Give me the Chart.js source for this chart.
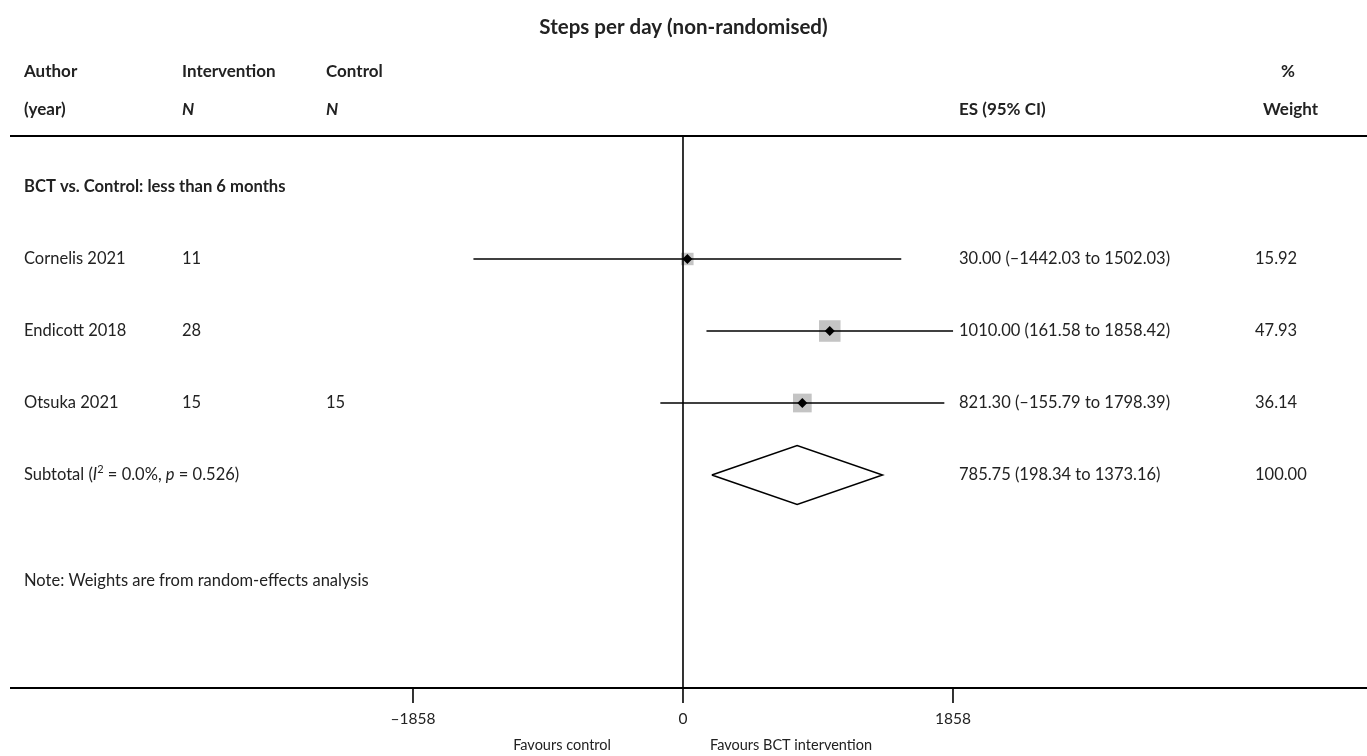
<!DOCTYPE html>
<html>
<head>
<meta charset="utf-8">
<script src="https://cdn.jsdelivr.net/npm/chart.js@4/dist/chart.umd.min.js"></script>
<style>
  html,body{margin:0;padding:0;background:#fff;}
  #wrap{width:1367px;height:756px;position:relative;}
</style>
</head>
<body>
<div id="wrap"><canvas id="c" width="1367" height="756"></canvas></div>
<script>
// ---- data ----
const studies = ['Cornelis 2021', 'Endicott 2018', 'Otsuka 2021'];
const interventionN = ['11', '28', '15'];
const controlN = ['', '', '15'];
const es = [30.00, 1010.00, 821.30];
const ciLow = [-1442.03, 161.58, -155.79];
const ciHigh = [1502.03, 1858.42, 1798.39];
const weights = [15.92, 47.93, 36.14];
const subtotalEs = [785.75];
const subtotalLow = [198.34];
const subtotalHigh = [1373.16];
const subtotalWeight = [100.00];
const xTicks = [-1858, 0, 1858];
const xTickLabels = ['–1858', '0', '1858'];

// row index of each line in the table
const studyRows = [1, 2, 3];
const subtotalRow = 4;

const FONT = 'Lato, "Open Sans", sans-serif';
const TXT = '#222';
const fmt = v => (v < 0 ? '–' : '') + Math.abs(v).toFixed(2);

const datasets = [];
// point estimate markers (small black diamonds) – on top
datasets.push({
  type: 'scatter', order: 0,
  data: es.map((v, i) => ({x: v, y: studyRows[i]})),
  pointStyle: 'rectRot', pointRadius: 5, backgroundColor: '#000', borderColor: '#000', borderWidth: 0
});
// CI lines
studies.forEach((s, i) => {
  datasets.push({
    type: 'line', order: 1,
    data: [{x: ciLow[i], y: studyRows[i]}, {x: ciHigh[i], y: studyRows[i]}],
    borderColor: '#000', borderWidth: 1.6, pointRadius: 0, fill: false
  });
});
// weight squares
datasets.push({
  type: 'scatter', order: 2,
  data: es.map((v, i) => ({x: v, y: studyRows[i]})),
  pointStyle: 'rect', pointRadius: weights.map(w => 2.2 * Math.sqrt(w)),
  backgroundColor: '#c4c4c4', borderWidth: 0
});
// subtotal diamond
datasets.push({
  type: 'line', order: 1,
  data: [
    {x: subtotalLow[0], y: subtotalRow},
    {x: subtotalEs[0], y: subtotalRow - 0.41},
    {x: subtotalHigh[0], y: subtotalRow},
    {x: subtotalEs[0], y: subtotalRow + 0.41},
    {x: subtotalLow[0], y: subtotalRow}
  ],
  borderColor: '#000', borderWidth: 1.5, pointRadius: 0, fill: false, tension: 0
});

const tablePlugin = {
  id: 'table',
  afterDatasetsDraw(chart) {
    const ctx = chart.ctx;
    const xs = chart.scales.x, ys = chart.scales.y;
    const X = v => xs.getPixelForValue(v);
    const Y = r => ys.getPixelForValue(r);
    const W = chart.width;
    const headerLineRow = -0.71, axisRow = 6.958;

    ctx.save();
    // vertical null line
    ctx.strokeStyle = '#000'; ctx.lineWidth = 1.6;
    ctx.beginPath(); ctx.moveTo(X(0), Y(headerLineRow)); ctx.lineTo(X(0), Y(axisRow)); ctx.stroke();
    // header line
    ctx.lineWidth = 2;
    ctx.beginPath(); ctx.moveTo(10, Y(headerLineRow)); ctx.lineTo(W, Y(headerLineRow)); ctx.stroke();
    // axis line
    ctx.beginPath(); ctx.moveTo(10, Y(axisRow)); ctx.lineTo(W, Y(axisRow)); ctx.stroke();
    // ticks
    ctx.lineWidth = 1.6;
    xTicks.forEach(t => {
      ctx.beginPath(); ctx.moveTo(X(t), Y(axisRow)); ctx.lineTo(X(t), Y(axisRow) + 15); ctx.stroke();
    });
    ctx.fillStyle = TXT; ctx.textBaseline = 'middle';
    ctx.font = '15.5px ' + FONT; ctx.textAlign = 'center';
    xTicks.forEach((t, i) => ctx.fillText(xTickLabels[i], X(t), Y(axisRow) + 31));
    ctx.font = '14.5px ' + FONT;
    ctx.textAlign = 'right';
    ctx.fillText('Favours control', X(0) - 72, Y(axisRow) + 57);
    ctx.textAlign = 'left';
    ctx.fillText('Favours BCT intervention', X(0) + 27, Y(axisRow) + 57);

    // title
    ctx.font = 'bold 20.5px ' + FONT; ctx.textAlign = 'center';
    ctx.fillText('Steps per day (non-randomised)', W / 2, Y(-2.22));

    // column headers
    const colAuthor = 24, colInt = 182, colCtl = 326, colES = 959, colW = 1255;
    ctx.textAlign = 'left';
    ctx.font = 'bold 17px ' + FONT;
    ctx.fillText('Author', colAuthor, Y(-1.6));
    ctx.fillText('Intervention', colInt, Y(-1.6));
    ctx.fillText('Control', colCtl, Y(-1.6));
    ctx.fillText('%', 1281, Y(-1.6));
    ctx.fillText('(year)', colAuthor, Y(-1.07));
    ctx.fillText('ES (95% CI)', colES, Y(-1.07));
    ctx.fillText('Weight', 1263, Y(-1.07));
    ctx.font = 'italic bold 17px ' + FONT;
    ctx.fillText('N', colInt, Y(-1.07));
    ctx.fillText('N', colCtl, Y(-1.07));

    // subgroup header
    ctx.font = 'bold 16.6px ' + FONT;
    ctx.fillText('BCT vs. Control: less than 6 months', colAuthor, Y(0));

    // study rows
    ctx.font = '16.5px ' + FONT;
    studies.forEach((s, i) => {
      const y = Y(studyRows[i]);
      ctx.fillText(s, colAuthor, y);
      ctx.fillText(interventionN[i], colInt, y);
      ctx.fillText(controlN[i], colCtl, y);
      ctx.fillText(fmt(es[i]) + ' (' + fmt(ciLow[i]) + ' to ' + fmt(ciHigh[i]) + ')', colES, y);
      ctx.fillText(weights[i].toFixed(2), colW, y);
    });

    // subtotal row
    const ys4 = Y(subtotalRow);
    let x = colAuthor;
    const parts = [
      ['Subtotal (', '16.5px ', 0],
      ['I', 'italic 16.5px ', 0],
      ['2', '11px ', -6],
      [' = 0.0%, ', '16.5px ', 0],
      ['p', 'italic 16.5px ', 0],
      [' = 0.526)', '16.5px ', 0]
    ];
    parts.forEach(([t, f, dy]) => {
      ctx.font = f + FONT;
      ctx.fillText(t, x, ys4 + dy);
      x += ctx.measureText(t).width;
    });
    ctx.font = '16.5px ' + FONT;
    ctx.fillText(fmt(subtotalEs[0]) + ' (' + fmt(subtotalLow[0]) + ' to ' + fmt(subtotalHigh[0]) + ')', colES, ys4);
    ctx.fillText(subtotalWeight[0].toFixed(2), colW, ys4);

    // note
    ctx.fillText('Note: Weights are from random-effects analysis', colAuthor, Y(5.47));
    ctx.restore();
  }
};

new Chart(document.getElementById('c'), {
  data: {datasets},
  options: {
    responsive: false, animation: false,
    layout: {padding: 0, autoPadding: false},
    plugins: {legend: {display: false}, tooltip: {enabled: false}, title: {display: false}},
    scales: {
      x: {type: 'linear', display: false, min: -4700, max: 4707},
      y: {type: 'linear', display: false, reverse: true, min: -187 / 72, max: (756 - 187) / 72}
    }
  },
  plugins: [tablePlugin]
});
</script>
</body>
</html>
